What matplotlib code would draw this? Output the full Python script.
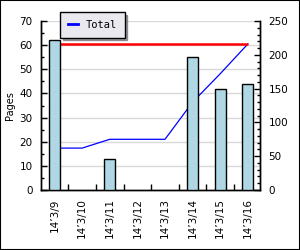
import matplotlib
matplotlib.use("Agg")
import matplotlib.pyplot as plt
from matplotlib.patches import Rectangle

DATES = ["14’3/9", "14’3/10", "14’3/11", "14’3/12", "14’3/13", "14’3/14", "14’3/15", "14’3/16"]
PAGES = [62, 0, 13, 0, 0, 55, 42, 44]
TOTAL = [62, 62, 75, 75, 75, 130, 172, 216]
GOAL = 216

BAR, RED, BLUE, GRID = "#add8e6", "#ff0000", "#0000ff", "#d9d9d9"

plt.rcParams["font.family"] = "DejaVu Sans"
fig = plt.figure(figsize=(3.0, 2.5), dpi=100)
fig.patch.set_facecolor("white")
fig.add_artist(Rectangle((0, 0), 1, 1, transform=fig.transFigure, fill=False,
                         edgecolor="black", linewidth=1.5))

ax = fig.add_axes([41 / 300, 60 / 250, 219 / 300, 169 / 250])
ax2 = ax.twinx()
ax.set_zorder(ax2.get_zorder() + 1)
ax.patch.set_visible(False)

x = range(len(DATES))
bars = [(i, v) for i, v in zip(x, PAGES) if v]
ax.bar([b[0] for b in bars], [b[1] for b in bars], width=0.4, color=BAR,
       edgecolor="black", linewidth=1, zorder=3)
for i, v in bars:
    ax.vlines(i, 0, v, colors="#e8b8c0", linestyles=(0, (1, 3)), linewidth=0.8, zorder=4)

ax2.plot(x, TOTAL, color=BLUE, linewidth=0.9, label="Total")
ax2.hlines(GOAL, 0, len(DATES) - 1, colors=RED, linewidth=1.8)

ax.set_xlim(-0.49, 7.44)
ax.set_ylim(0, 70)
ax2.set_ylim(0, 250)
ax.set_yticks(range(0, 71, 10))
ax.set_yticks(range(0, 71, 5), minor=True)
ax2.set_yticks(range(0, 251, 50))
ax2.set_yticks(range(0, 251, 10), minor=True)
for v in range(10, 71, 10):
    ax2.axhline(v * 250 / 70, color=GRID, linewidth=1, zorder=0)

ax.set_xticks([i + 0.5 for i in range(len(DATES) - 1)])
ax.set_xticklabels([])
ax.set_xticks(list(x), minor=True)
ax.set_xticklabels(DATES, minor=True, rotation=90, fontsize=7.5)
ax.tick_params(axis="x", which="major", direction="in", length=4, width=1)
ax.tick_params(axis="x", which="minor", length=0, pad=6)
ax.tick_params(axis="y", which="major", direction="in", length=4, width=1, labelsize=7.5, pad=6)
ax.tick_params(axis="y", which="minor", direction="in", length=2, width=1)
ax2.tick_params(axis="y", which="major", direction="in", length=4, width=1, labelsize=7.5, pad=6)
ax2.tick_params(axis="y", which="minor", direction="in", length=2, width=1)

for a in (ax, ax2):
    a.spines["top"].set_visible(False)
    for s in ("left", "right", "bottom"):
        a.spines[s].set_linewidth(1)
ax.set_ylabel("Pages", fontsize=7, labelpad=3)

leg = fig.legend(loc="upper left", bbox_to_anchor=(60 / 300, 1 - 12 / 250),
                 prop={"family": "DejaVu Sans Mono", "size": 7.5},
                 handlelength=1.0, fancybox=False, shadow=True, borderaxespad=0,
                 framealpha=1, borderpad=0.75, handletextpad=0.7)
leg.get_frame().set_facecolor("#ebe9f0")
leg.get_frame().set_edgecolor("black")
leg.get_frame().set_linewidth(1)
for h in leg.legend_handles:
    h.set_linewidth(2)

fig.savefig("out.png", dpi=100)
